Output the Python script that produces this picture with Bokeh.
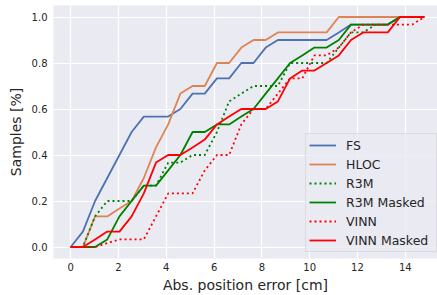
from bokeh.plotting import figure
from bokeh.models import Range1d, FixedTicker
from bokeh.embed import file_html
from bokeh.resources import INLINE

# Sampling grid of position error thresholds [cm]
xs = [0.00, 0.51, 1.02, 1.53, 2.04, 2.55, 3.06, 3.57, 4.08, 4.59,
      5.10, 5.61, 6.12, 6.63, 7.14, 7.65, 8.16, 8.67, 9.18, 9.69,
      10.20, 10.71, 11.22, 11.73, 12.24, 12.76, 13.27, 13.78, 14.29, 14.80]

fs = [0.000, 0.067, 0.200, 0.300, 0.400, 0.500, 0.567, 0.567, 0.567, 0.600,
      0.667, 0.667, 0.733, 0.733, 0.800, 0.800, 0.867, 0.900, 0.900, 0.900,
      0.900, 0.900, 0.933, 0.967, 0.967, 0.967, 0.967, 1.000, 1.000, 1.000]
hloc = [0.000, 0.000, 0.133, 0.133, 0.167, 0.200, 0.300, 0.433, 0.533, 0.667,
        0.700, 0.700, 0.800, 0.800, 0.867, 0.900, 0.900, 0.933, 0.933, 0.933,
        0.933, 0.933, 1.000, 1.000, 1.000, 1.000, 1.000, 1.000, 1.000, 1.000]
r3m = [0.000, 0.000, 0.133, 0.200, 0.200, 0.200, 0.267, 0.267, 0.367, 0.367,
       0.400, 0.400, 0.500, 0.633, 0.667, 0.700, 0.700, 0.700, 0.800, 0.800,
       0.800, 0.800, 0.867, 0.933, 0.933, 0.967, 0.967, 1.000, 1.000, 1.000]
r3m_masked = [0.000, 0.000, 0.000, 0.033, 0.133, 0.200, 0.267, 0.267, 0.333, 0.400,
              0.500, 0.500, 0.533, 0.533, 0.567, 0.600, 0.667, 0.733, 0.800, 0.833,
              0.867, 0.867, 0.900, 0.967, 0.967, 0.967, 0.967, 1.000, 1.000, 1.000]
vinn = [0.000, 0.000, 0.000, 0.017, 0.033, 0.033, 0.033, 0.133, 0.233, 0.233,
        0.233, 0.333, 0.400, 0.400, 0.533, 0.600, 0.600, 0.667, 0.733, 0.733,
        0.833, 0.833, 0.867, 0.933, 0.967, 0.967, 0.967, 0.967, 0.967, 1.000]
vinn_masked = [0.000, 0.000, 0.033, 0.067, 0.067, 0.133, 0.233, 0.367, 0.400, 0.400,
               0.433, 0.467, 0.533, 0.567, 0.600, 0.600, 0.600, 0.633, 0.733, 0.767,
               0.767, 0.800, 0.833, 0.900, 0.933, 0.933, 0.933, 1.000, 1.000, 1.000]

x_ticks = [0, 2, 4, 6, 8, 10, 12, 14]
y_ticks = [0.0, 0.2, 0.4, 0.6, 0.8, 1.0]
y_tick_labels = ["0.0", "0.2", "0.4", "0.6", "0.8", "1.0"]

series = [
    ("FS", fs, "#4C72B0", "solid"),
    ("HLOC", hloc, "#DD8452", "solid"),
    ("R3M", r3m, "#008000", "2 3"),
    ("R3M Masked", r3m_masked, "#008000", "solid"),
    ("VINN", vinn, "#FF0000", "2 3"),
    ("VINN Masked", vinn_masked, "#FF0000", "solid"),
]

FONT = "DejaVu Sans"
TXT = "#262626"

p = figure(width=437, height=295, output_backend="svg", toolbar_location=None,
           x_range=Range1d(-0.72, 15.35), y_range=Range1d(-0.05, 1.05),
           min_border_left=53, min_border_right=0, min_border_top=5,
           min_border_bottom=37)
p.background_fill_color = "#EAEAF2"
p.border_fill_color = "white"
p.outline_line_color = None

for name, ys, color, dash in series:
    p.line(xs, ys, line_color=color, line_width=1.8, line_dash=dash,
           line_join="round", legend_label=name)

p.xaxis.ticker = FixedTicker(ticks=x_ticks)
p.yaxis.ticker = FixedTicker(ticks=y_ticks)
p.yaxis.major_label_overrides = {t: l for t, l in zip(y_ticks, y_tick_labels)}
for ax in (p.xaxis, p.yaxis):
    ax.axis_line_color = None
    ax.major_tick_line_color = None
    ax.minor_tick_line_color = None
    ax.major_tick_in = 0
    ax.major_tick_out = 0
    ax.minor_tick_in = 0
    ax.minor_tick_out = 0
    ax.major_label_text_font = FONT
    ax.major_label_text_font_size = "10px"
    ax.major_label_text_color = TXT
    ax.axis_label_text_font = FONT
    ax.axis_label_text_font_size = "14px"
    ax.axis_label_text_font_style = "normal"
    ax.axis_label_text_color = TXT
p.xaxis.axis_label = "Abs. position error [cm]"
p.yaxis.axis_label = "Samples [%]"
p.xaxis.major_label_standoff = 4
p.yaxis.major_label_standoff = 6
p.xaxis.axis_label_standoff = 3
p.yaxis.axis_label_standoff = 5

p.xgrid.grid_line_color = "white"
p.ygrid.grid_line_color = "white"
p.xgrid.grid_line_width = 1.2
p.ygrid.grid_line_width = 1.2

lg = p.legend[0]
lg.location = (252, 6)
lg.margin = 0
lg.padding = 3
lg.spacing = 3
lg.glyph_width = 27
lg.glyph_height = 16
lg.label_height = 16
lg.label_width = 87
lg.label_standoff = 10
lg.label_text_font = FONT
lg.label_text_font_size = "12.5px"
lg.label_text_color = TXT
lg.background_fill_color = "#EAEAF2"
lg.background_fill_alpha = 0.8
lg.border_line_color = "#CCCCCC"
lg.border_line_width = 1

open("out.html", "w").write(file_html(p, INLINE))
